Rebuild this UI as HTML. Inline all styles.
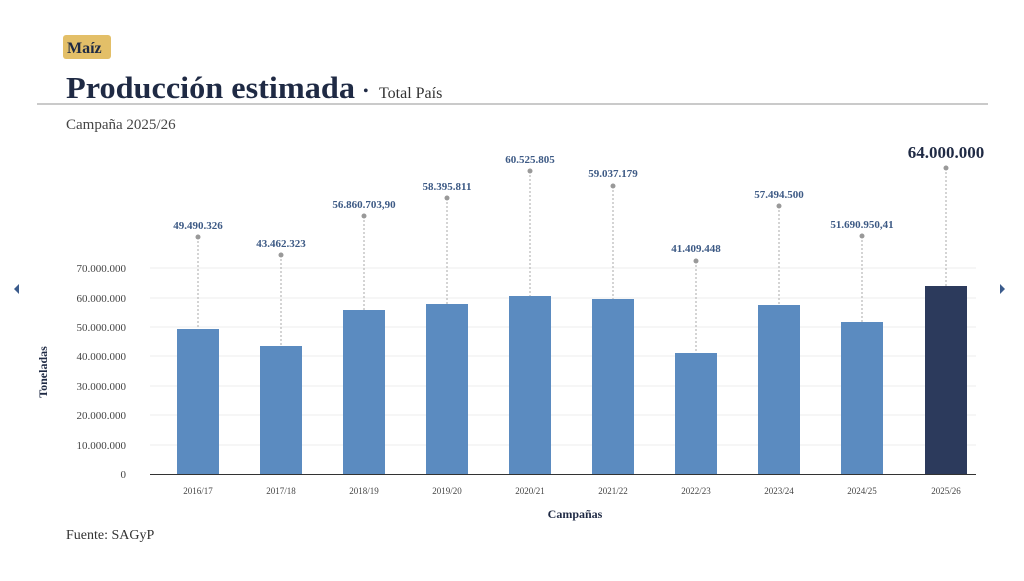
<!DOCTYPE html>
<html><head><meta charset="utf-8"><style>
body{margin:0;width:1024px;height:576px;background:#fff;overflow:hidden;font-family:"Liberation Serif",serif}
</style></head><body>
<svg width="1024" height="576" xmlns="http://www.w3.org/2000/svg" font-family="Liberation Serif, serif">
<rect x="63" y="35" width="48" height="24" rx="3" fill="#e3bf68"/>
<text x="67" y="53" font-size="16" font-weight="bold" fill="#1f2a44">Maíz</text>
<text x="66" y="98" font-size="31" font-weight="bold" fill="#1f2a44" textLength="289" lengthAdjust="spacingAndGlyphs">Producción estimada</text>
<text x="363" y="96" font-size="16" fill="#1f2a44">•</text>
<text x="379" y="98" font-size="16" fill="#333">Total País</text>
<line x1="37" y1="104" x2="988" y2="104" stroke="#aaa" stroke-width="1.2"/>
<text x="66" y="129" font-size="15" fill="#444">Campaña 2025/26</text>
<g stroke="#eee" stroke-width="1">
<line x1="150" y1="268" x2="976" y2="268"/><line x1="150" y1="298" x2="976" y2="298"/><line x1="150" y1="327" x2="976" y2="327"/><line x1="150" y1="356" x2="976" y2="356"/><line x1="150" y1="386" x2="976" y2="386"/><line x1="150" y1="415" x2="976" y2="415"/><line x1="150" y1="445" x2="976" y2="445"/>
</g>
<line x1="150" y1="474.5" x2="976" y2="474.5" stroke="#333" stroke-width="1"/>
<g font-size="11" fill="#444" text-anchor="end">
<text x="126" y="272">70.000.000</text><text x="126" y="302">60.000.000</text><text x="126" y="331">50.000.000</text><text x="126" y="360">40.000.000</text><text x="126" y="390">30.000.000</text><text x="126" y="419">20.000.000</text><text x="126" y="449">10.000.000</text><text x="126" y="478">0</text>
</g>
<text transform="translate(47,372) rotate(-90)" font-size="12" font-weight="bold" fill="#1f2a44" text-anchor="middle">Toneladas</text>
<text x="575" y="518" font-size="12" font-weight="bold" fill="#1f2a44" text-anchor="middle">Campañas</text>
<text x="66" y="539" font-size="14" fill="#333">Fuente: SAGyP</text>
<polygon points="19,284 14,289 19,294" fill="#3b5b8c"/>
<polygon points="1000,284 1005,289 1000,294" fill="#3b5b8c"/>
<g id="bars" font-size="11">
<g stroke="#aaa" stroke-dasharray="2,2">
<line x1="198" y1="237" x2="198" y2="329"/><line x1="281" y1="255" x2="281" y2="346"/><line x1="364" y1="216" x2="364" y2="310"/><line x1="447" y1="198" x2="447" y2="304"/><line x1="530" y1="171" x2="530" y2="296"/><line x1="613" y1="186" x2="613" y2="300"/><line x1="696" y1="261" x2="696" y2="353"/><line x1="779" y1="206" x2="779" y2="305"/><line x1="862" y1="236" x2="862" y2="322"/><line x1="946" y1="168" x2="946" y2="286"/>
</g>
<g fill="#999">
<circle cx="198" cy="237" r="2.5"/><circle cx="281" cy="255" r="2.5"/><circle cx="364" cy="216" r="2.5"/><circle cx="447" cy="198" r="2.5"/><circle cx="530" cy="171" r="2.5"/><circle cx="613" cy="186" r="2.5"/><circle cx="696" cy="261" r="2.5"/><circle cx="779" cy="206" r="2.5"/><circle cx="862" cy="236" r="2.5"/><circle cx="946" cy="168" r="2.5"/>
</g>
<g fill="#5b8bc0">
<rect x="177" y="329" width="42" height="145"/><rect x="260" y="346" width="42" height="128"/><rect x="343" y="310" width="42" height="164"/><rect x="426" y="304" width="42" height="170"/><rect x="509" y="296" width="42" height="178"/><rect x="592" y="299" width="42" height="175"/><rect x="675" y="353" width="42" height="121"/><rect x="758" y="305" width="42" height="169"/><rect x="841" y="322" width="42" height="152"/>
</g>
<rect x="925" y="286" width="42" height="188" fill="#2c3a5c"/>
<g fill="#3d5a85" font-weight="bold" text-anchor="middle">
<text x="198" y="229">49.490.326</text><text x="281" y="247">43.462.323</text><text x="364" y="208">56.860.703,90</text><text x="447" y="190">58.395.811</text><text x="530" y="163">60.525.805</text><text x="613" y="177">59.037.179</text><text x="696" y="252">41.409.448</text><text x="779" y="198">57.494.500</text><text x="862" y="228">51.690.950,41</text>
</g>
<text x="946" y="158" font-size="17" font-weight="bold" fill="#1f2a44" text-anchor="middle">64.000.000</text>
<g fill="#444" font-size="9" text-anchor="middle">
<text x="198" y="494">2016/17</text><text x="281" y="494">2017/18</text><text x="364" y="494">2018/19</text><text x="447" y="494">2019/20</text><text x="530" y="494">2020/21</text><text x="613" y="494">2021/22</text><text x="696" y="494">2022/23</text><text x="779" y="494">2023/24</text><text x="862" y="494">2024/25</text><text x="946" y="494">2025/26</text>
</g>
</g>
</svg>
</body></html>
